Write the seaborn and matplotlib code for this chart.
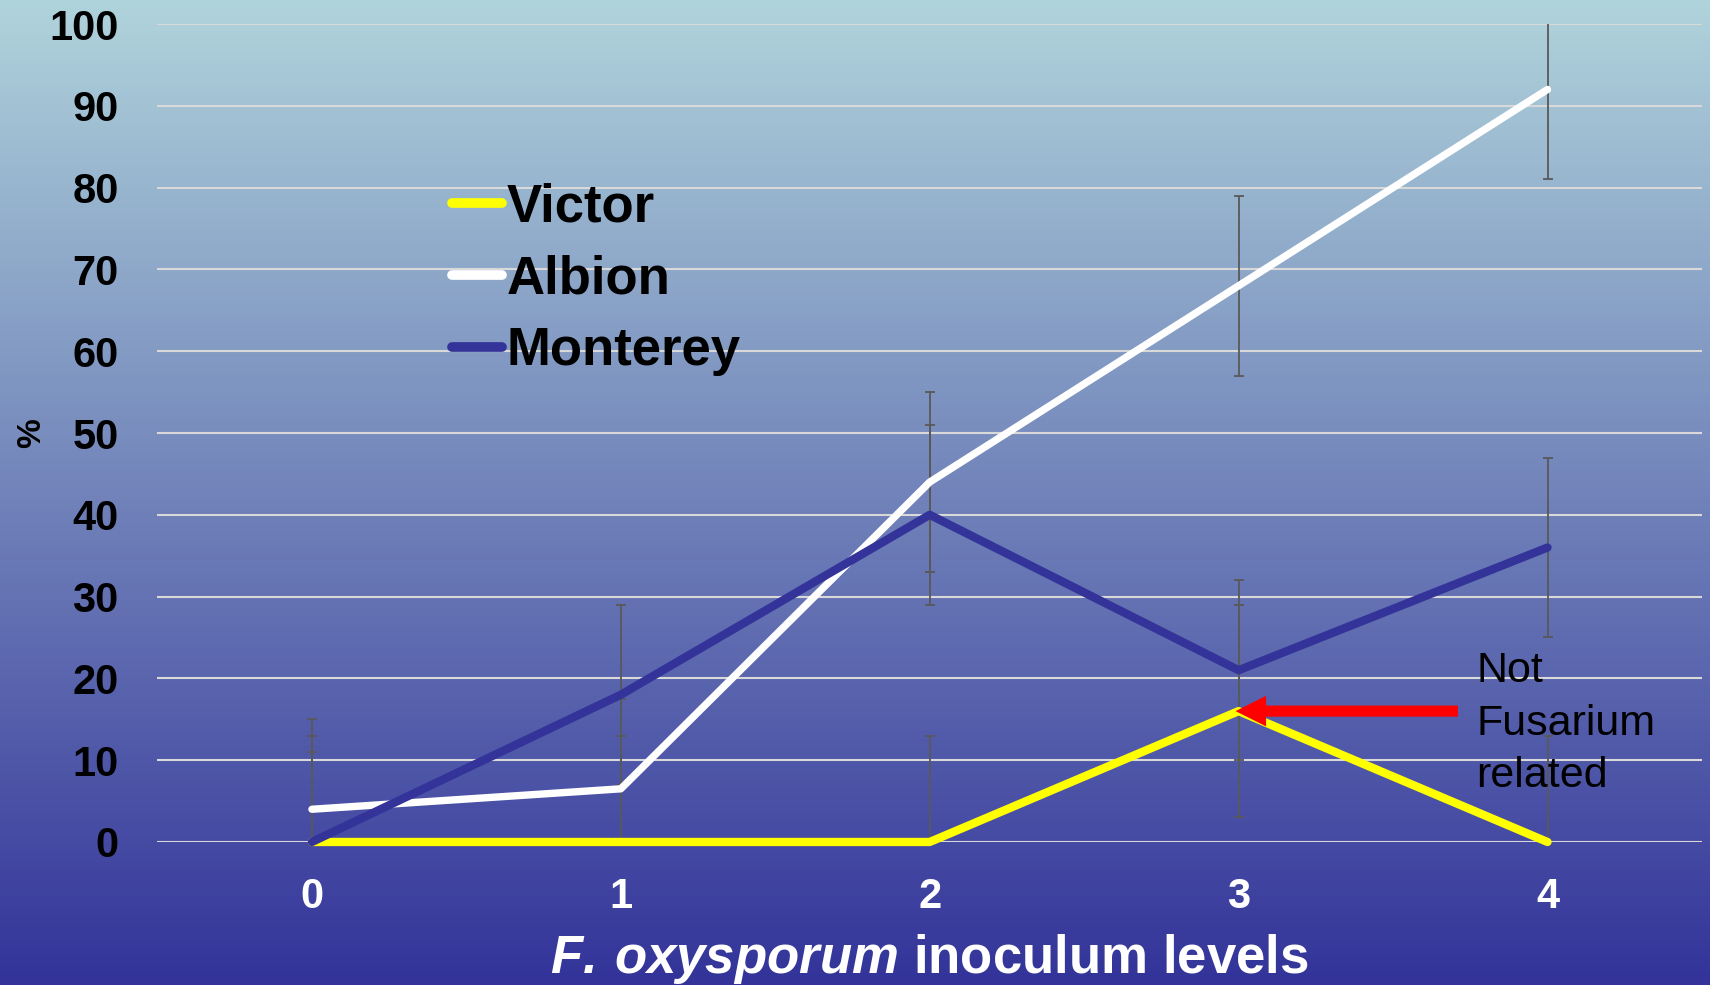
import numpy as np
import pandas as pd
import matplotlib
matplotlib.use('Agg')
import matplotlib.pyplot as plt
import seaborn as sns
from matplotlib.lines import Line2D

# Werte
levels = [0, 1, 2, 3, 4]
victor = [0, 0, 0, 16, 0]
albion = [4, 6.5, 44, 68, 92]
monterey = [0, 18, 40, 21, 36]
victor_err = [13, 13, 13, 13, 13]
albion_err = [11, 11, 11, 11, 11]
monterey_err = [11, 11, 11, 11, 11]
cultivars = ['Victor', 'Albion', 'Monterey']
y_ticks = [0, 10, 20, 30, 40, 50, 60, 70, 80, 90, 100]

colors = {'Victor': '#FFFF00', 'Albion': '#FFFFFF', 'Monterey': '#333399'}
widths = {'Victor': 6.0, 'Albion': 5.3, 'Monterey': 6.0}

df = pd.DataFrame({
    'level': levels * 3,
    'value': victor + albion + monterey,
    'err': victor_err + albion_err + monterey_err,
    'cultivar': [c for c in cultivars for _ in levels],
})

sns.set_theme(style='white')
plt.rcParams['font.family'] = ['Liberation Sans', 'DejaVu Sans']
plt.rcParams['mathtext.fontset'] = 'custom'
plt.rcParams['mathtext.it'] = 'Liberation Sans:italic:bold'
plt.rcParams['mathtext.rm'] = 'Liberation Sans:italic:bold'

fig = plt.figure(figsize=(17.1, 9.85), dpi=100)

# Hintergrund mit Farbverlauf
bg = fig.add_axes([0, 0, 1, 1], zorder=-10)
top = np.array([0.69, 0.83, 0.86])
bottom = np.array([0.20, 0.20, 0.60])
t = np.linspace(0, 1, 256)[:, None]
grad = top * (1 - t) + bottom * t
bg.imshow(grad[:, None, :], aspect='auto', extent=[0, 1, 0, 1])
bg.axis('off')

ax = fig.add_axes([0.0921, 0.1452, 0.9032, 0.8304])
ax.patch.set_alpha(0)

# Fehlerbalken
for name in cultivars:
    sub = df[df['cultivar'] == name]
    ax.errorbar(sub['level'], sub['value'], yerr=sub['err'], fmt='none',
                ecolor='#595959', elinewidth=1.3, capsize=3.5, capthick=1.3, zorder=2)

# Linien
for i, name in enumerate(cultivars):
    sub = df[df['cultivar'] == name]
    sns.lineplot(data=sub, x='level', y='value', color=colors[name], linewidth=widths[name],
                 ax=ax, legend=False, solid_capstyle='round', clip_on=False, zorder=3 + i)

ax.set_xlim(-0.5, 4.5)
ax.set_ylim(0, 100)
ax.set_xticks(levels)
ax.set_yticks(y_ticks)
ax.grid(axis='y', color='#D9D9D9', linewidth=1.5)
ax.grid(axis='x', visible=False)
ax.set_axisbelow(True)
for s in ax.spines.values():
    s.set_visible(False)

ax.tick_params(axis='y', length=0, pad=28, labelsize=30, labelcolor='black')
ax.tick_params(axis='x', length=0, pad=25, labelsize=30, labelcolor='white')
for lbl in ax.get_xticklabels() + ax.get_yticklabels():
    lbl.set_fontweight('bold')

ax.set_xlabel(r'$F.\,oxysporum$ inoculum levels', color='white', fontsize=38,
              fontweight='bold', labelpad=11)
ax.set_ylabel('%', fontsize=24, fontweight='bold', color='black')
ax.yaxis.set_label_coords(-0.0715, 0.5)

# Legende
handles = [Line2D([], [], color=colors[c], lw=7, solid_capstyle='round') for c in cultivars]
ax.legend(handles, cultivars, loc='upper left', bbox_to_anchor=(452 / 1710, 0.8144),
          bbox_transform=fig.transFigure, frameon=False, prop={'size': 38, 'weight': 'bold'},
          labelcolor='black', handlelength=0.95, handletextpad=0.08, labelspacing=0.41,
          borderpad=0, borderaxespad=0)

# Pfeil und Hinweis
ax.annotate('', xy=(2.99, 16), xytext=(3.71, 16),
            arrowprops=dict(facecolor='red', edgecolor='none', width=8, headwidth=22,
                            headlength=22, shrink=0), zorder=8)
ax.text(3.77, 23.3, 'Not\nFusarium\nrelated', fontsize=31, va='top', ha='left',
        linespacing=1.4, color='black', zorder=8)

fig.savefig('out.png', dpi=100)
